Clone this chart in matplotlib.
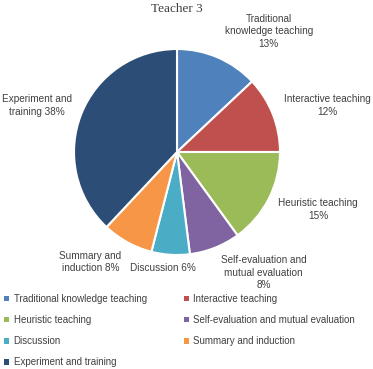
import matplotlib.pyplot as plt
from matplotlib.patches import Patch

categories = ["Traditional knowledge teaching", "Interactive teaching", "Heuristic teaching",
              "Self-evaluation and mutual evaluation", "Discussion", "Summary and induction",
              "Experiment and training"]
values = [13, 12, 15, 8, 6, 8, 38]
slice_labels = ["Traditional\nknowledge teaching\n13%", "Interactive teaching\n12%",
                "Heuristic teaching\n15%", "Self-evaluation and\nmutual evaluation\n8%",
                "Discussion 6%", "Summary and\ninduction 8%", "Experiment and\ntraining 38%"]
colors = ["#4F81BD", "#C0504D", "#9BBB59", "#8064A2", "#4BACC6", "#F79646", "#2C4D75"]

# label anchor positions (in units of pie radius)
label_pos = [(0.89, 1.17), (1.46, 0.45), (1.37, -0.56), (0.84, -1.17),
             (-0.14, -1.13), (-0.84, -1.07), (-1.36, 0.45)]

W, H = 373, 369
fig = plt.figure(figsize=(W / 100, H / 100), dpi=100)
cx, cy, r = 177, 152, 103
ax = fig.add_axes([(cx - r) / W, 1 - (cy + r) / H, 2 * r / W, 2 * r / H])
ax.pie(values, colors=colors, startangle=90, counterclock=False, radius=1,
       wedgeprops=dict(edgecolor="white", linewidth=1.5))
ax.set_xlim(-1, 1)
ax.set_ylim(-1, 1)
ax.set_aspect("auto")
ax.axis("off")

for lab, (x, y) in zip(slice_labels, label_pos):
    ax.text(x, y, lab, ha="center", va="center", fontsize=7.2, color="#404040",
            family="Liberation Sans", linespacing=1.3, clip_on=False)

fig.text(cx / W, 1 - 9 / H, "Teacher 3", ha="center", va="center", fontsize=9.5,
         family="Liberation Serif", color="#404040")

order = [0, 2, 4, 6, 1, 3, 5]
handles = [Patch(facecolor=colors[i], edgecolor="none") for i in order]
fig.legend(handles, [categories[i] for i in order], ncol=2, loc="upper left",
           bbox_to_anchor=(0.0, 1 - 290 / H), frameon=False,
           prop=dict(family="Liberation Sans", size=7), labelcolor="#404040",
           handlelength=0.5, handleheight=0.5, handletextpad=0.5,
           columnspacing=3.8, labelspacing=1.15, borderaxespad=0)

fig.savefig("out.png", dpi=100)
